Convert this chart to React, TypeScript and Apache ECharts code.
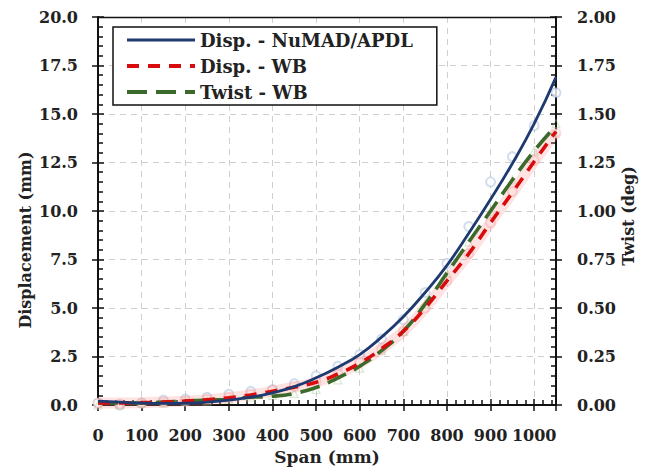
import React, { useEffect, useRef } from "react";
import * as echarts from "echarts";

const spanMm = [0, 50, 100, 150, 200, 250, 300, 350, 400, 450, 500, 550, 600, 650, 700, 750, 800, 850, 900, 950, 1000, 1050];
const dispNumad = [0.2, 0.15, 0.1, 0.08, 0.09, 0.15, 0.25, 0.4, 0.63, 0.95, 1.4, 1.95, 2.6, 3.5, 4.55, 5.8, 7.2, 8.85, 10.6, 12.45, 14.5, 16.9];
const dispWb = [0.1, 0.1, 0.12, 0.15, 0.2, 0.27, 0.37, 0.52, 0.71, 0.92, 1.17, 1.6, 2.16, 2.9, 3.8, 5.0, 6.4, 7.8, 9.4, 10.95, 12.55, 14.1];
const twistWb = [0.01, 0.01, 0.01, 0.015, 0.02, 0.025, 0.03, 0.04, 0.045, 0.06, 0.09, 0.14, 0.2, 0.28, 0.38, 0.52, 0.68, 0.84, 1.0, 1.16, 1.31, 1.44];
const dispNumadPts = [0.1, 0.0, 0.1, 0.25, 0.3, 0.4, 0.55, 0.7, 0.8, 1.1, 1.5, 2.0, 2.6, 3.4, 4.4, 5.8, 7.3, 9.2, 11.5, 12.8, 14.4, 16.1];
const dispWbPts = [0.1, 0.05, 0.1, 0.15, 0.2, 0.3, 0.4, 0.55, 0.75, 0.95, 1.2, 1.6, 2.2, 2.9, 3.8, 5.0, 6.4, 7.8, 9.4, 11.0, 12.6, 14.0];
const twistWbPts = [0.0, 0.0, 0.01, 0.01, 0.02, 0.02, 0.03, 0.04, 0.05, 0.06, 0.08, 0.13, 0.19, 0.28, 0.38, 0.52, 0.68, 0.84, 1.0, 1.16, 1.31, 1.45];

const legendNames = ["Disp. - NuMAD/APDL", "Disp. - WB", "Twist - WB"];
const FONT = "'DejaVu Serif', 'Liberation Serif', serif";

const zip = (ys: number[]) => spanMm.map((x, i) => [x, ys[i]]);

export default function App() {
  const ref = useRef<HTMLDivElement>(null);
  useEffect(() => {
    if (!ref.current) return;
    const chart = echarts.init(ref.current, undefined, { renderer: "svg" });
    const labelStyle = { fontFamily: FONT, fontWeight: "bold" as const, fontSize: 16, color: "#222" };
    const tickLine = { color: "#111", width: 1.5 };
    const split = { show: true, lineStyle: { color: "#cfcfcf", type: [6, 5] as any, width: 1 } };
    chart.setOption({
      animation: false,
      backgroundColor: "#fff",
      grid: { left: 98, right: 95, top: 17, bottom: 61, containLabel: false },
      legend: {
        data: [
          { name: legendNames[0], lineStyle: { width: 3.2 } },
          { name: legendNames[1], lineStyle: { width: 4 } },
          { name: legendNames[2], lineStyle: { width: 4 } },
        ],
        orient: "vertical",
        left: 113,
        top: 27,
        itemWidth: 68,
        itemHeight: 14,
        itemGap: 8,
        padding: [4, 24, 4, 12],
        borderColor: "#111",
        borderWidth: 1.5,
        backgroundColor: "#fff",
        itemStyle: { opacity: 0 },
        textStyle: { fontFamily: FONT, fontWeight: "bold", fontSize: 18, color: "#222" },
      },
      xAxis: [
        {
          type: "value", min: 0, max: 1050, interval: 100, position: "bottom",
          name: "Span (mm)", nameLocation: "middle", nameGap: 43,
          nameTextStyle: { fontFamily: FONT, fontWeight: "bold", fontSize: 17, color: "#222" },
          axisLine: { show: true, onZero: false, lineStyle: { color: "#111", width: 2 } },
          axisTick: { show: true, inside: true, length: 6, lineStyle: tickLine },
          minorTick: { show: true, splitNumber: 5, length: 5, lineStyle: tickLine },
          axisLabel: { ...labelStyle, margin: 22, showMaxLabel: false, formatter: (v: number) => String(v) },
          splitLine: split,
        },
        {
          type: "value", min: 0, max: 1050, interval: 100, position: "bottom",
          axisLine: { show: false, onZero: false },
          axisTick: { show: true, inside: false, length: 6, lineStyle: tickLine },
          axisLabel: { show: false },
          splitLine: { show: false },
        },
        {
          type: "value", min: 0, max: 1050, interval: 100, position: "top",
          axisLine: { show: true, onZero: false, lineStyle: { color: "#111", width: 1.3 } },
          axisTick: { show: false },
          axisLabel: { show: false },
          splitLine: { show: false },
        },
      ],
      yAxis: [
        {
          type: "value", min: 0, max: 20, interval: 2.5, position: "left",
          axisLine: { show: true, onZero: false, lineStyle: { color: "#111", width: 2 } },
          axisTick: { show: true, inside: true, length: 6, lineStyle: tickLine },
          minorTick: { show: true, splitNumber: 5, length: 5, lineStyle: tickLine },
          axisLabel: { ...labelStyle, margin: 20, formatter: (v: number) => v.toFixed(1) },
          splitLine: split,
        },
        {
          type: "value", min: 0, max: 2, interval: 0.25, position: "right",
          axisLine: { show: true, onZero: false, lineStyle: { color: "#111", width: 2 } },
          axisTick: { show: true, inside: true, length: 6, lineStyle: tickLine },
          minorTick: { show: true, splitNumber: 5, length: 5, lineStyle: tickLine },
          axisLabel: { ...labelStyle, margin: 21, formatter: (v: number) => v.toFixed(2) },
          splitLine: { show: false },
        },
        {
          type: "value", min: 0, max: 20, interval: 2.5, position: "left",
          axisLine: { show: false, onZero: false },
          axisTick: { show: true, inside: false, length: 6, lineStyle: tickLine },
          axisLabel: { show: false },
          splitLine: { show: false },
        },
        {
          type: "value", min: 0, max: 2, interval: 0.25, position: "right",
          axisLine: { show: false, onZero: false },
          axisTick: { show: true, inside: false, length: 6, lineStyle: tickLine },
          axisLabel: { show: false },
          splitLine: { show: false },
        },
      ],
      graphic: [
        {
          type: "text", x: 25, y: 240, rotation: Math.PI / 2,
          style: { text: "Displacement (mm)", fontFamily: FONT, fontWeight: "bold", fontSize: 16, fill: "#222", align: "center", verticalAlign: "middle" },
        },
        {
          type: "text", x: 628, y: 216, rotation: Math.PI / 2,
          style: { text: "Twist (deg)", fontFamily: FONT, fontWeight: "bold", fontSize: 16, fill: "#222", align: "center", verticalAlign: "middle" },
        },
      ],
      series: [
        {
          name: "pts-numad", type: "scatter", xAxisIndex: 0, yAxisIndex: 0, data: zip(dispNumadPts),
          symbol: "emptyCircle", symbolSize: 9, itemStyle: { color: "rgba(150,180,215,0.55)", borderWidth: 1.2 }, silent: true, z: 1,
        },
        {
          name: "pts-wb", type: "scatter", xAxisIndex: 0, yAxisIndex: 0, data: zip(dispWbPts),
          symbol: "emptyCircle", symbolSize: 9, itemStyle: { color: "rgba(240,160,160,0.45)", borderWidth: 1.2 }, silent: true, z: 1,
        },
        {
          name: "pts-twist", type: "scatter", xAxisIndex: 0, yAxisIndex: 1, data: zip(twistWbPts),
          symbol: "triangle", symbolSize: 8, itemStyle: { color: "rgba(255,255,255,0)", borderColor: "rgba(160,200,140,0.5)", borderWidth: 1.2 }, silent: true, z: 1,
        },
        {
          name: "band-wb", type: "line", xAxisIndex: 0, yAxisIndex: 0, data: zip(dispWb), smooth: true, symbol: "none",
          lineStyle: { color: "rgba(255,140,140,0.25)", width: 11 }, silent: true, z: 2,
        },
        {
          name: legendNames[0], type: "line", xAxisIndex: 0, yAxisIndex: 0, data: zip(dispNumad), smooth: true, symbol: "none",
          color: "#1f3a70", lineStyle: { color: "#1f3a70", width: 2.8 }, z: 5,
        },
        {
          name: legendNames[1], type: "line", xAxisIndex: 0, yAxisIndex: 0, data: zip(dispWb), smooth: true, symbol: "none",
          color: "#d80c0c", lineStyle: { color: "#d80c0c", width: 3.6, type: [12, 9] }, z: 4,
        },
        {
          name: legendNames[2], type: "line", xAxisIndex: 0, yAxisIndex: 1, data: zip(twistWb), smooth: true, symbol: "none",
          color: "#3b6a2a", lineStyle: { color: "#3b6a2a", width: 3.6, type: [20, 9] }, z: 3,
        },
      ],
    });
    return () => chart.dispose();
  }, []);
  return <div ref={ref} style={{ width: 651, height: 470, position: "absolute", left: 0, top: 0 }} />;
}
